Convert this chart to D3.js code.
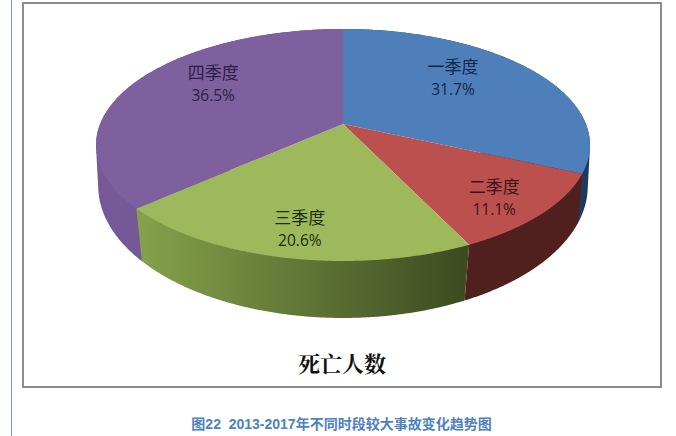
<!DOCTYPE html>
<html><head><meta charset="utf-8">
<script src="https://cdn.jsdelivr.net/npm/d3@7"></script>
<style>html,body{margin:0;padding:0;background:#fff}svg{display:block}</style>
</head><body><svg id="c" width="676" height="436"></svg>
<script>
const categories = ["一季度","二季度","三季度","四季度"];
const values = [31.7,11.1,20.6,36.5];
const valueLabels = ["31.7%","11.1%","20.6%","36.5%"];
const chartTitle = "死亡人数";
const caption = "图22  2013-2017年不同时段较大事故变化趋势图";

// style / layout
const topColors = ["#4f7fba","#bc504e","#9db95b","#7e609e"];
const wallStops = [["#1e3a60","#1e3a60"],["#4f201e","#4f201e"],["#86a24c","#3b4a20"],["#77599a","#6c5390"]];
const labelColors = ["#12264a","#3a1414","#1c2a10","#2a1f45"];
const labelAngle = [48.1,136.5,190.5,-56].map(d=>d*Math.PI/180);
const labelRadius = [.663,.813,.814,.684];
const wallOrder = [0,3,1,2];

const svg = d3.select("#c");
// perspective projection of a point on a disc of the pie
const disc = (cy,kx,ky,persp)=>{
  const sx=d3.scaleLinear().domain([-1,1]).range([343-kx,343+kx]);
  const sy=d3.scaleLinear().domain([-1,1]).range([cy-ky,cy+ky]);
  return (a,r=1)=>{
    const u=r*Math.sin(a), v=-r*Math.cos(a), w=1-persp*v;
    return [sx(u/w), sy(v/w)];
  };
};
const project = disc(124,242.9,112.2,.181);
const projectLow = disc(166.2,242,129,.15);

const arcs = d3.pie().sort(null).value(d=>d)(values);
const angles = d=>d3.range(0,241).map(i=>d.startAngle+(d.endAngle-d.startAngle)*i/240);
const line = d3.line();

const defs = svg.append("defs");
const ext = arcs.map(d=>d3.extent(angles(d),a=>project(a)[0]));
wallStops.forEach((s,i)=>{
  const g=defs.append("linearGradient").attr("id","w"+i).attr("gradientUnits","userSpaceOnUse")
    .attr("x1",ext[i][0]).attr("x2",ext[i][1]).attr("y1",0).attr("y2",0);
  g.append("stop").attr("offset",0).attr("stop-color",s[0]);
  g.append("stop").attr("offset",1).attr("stop-color",s[1]);
});

// page decoration
svg.append("line").attr("x1",11.5).attr("x2",11.5).attr("y1",0).attr("y2",436).attr("stroke","#7b97d6").attr("stroke-width",1);
svg.append("rect").attr("x",23).attr("y",3).attr("width",638).attr("height",384).attr("fill","#fff").attr("stroke","#8c8c8c").attr("stroke-width",2);

// walls first (convex hull of the top and bottom rims), top faces over them
svg.append("g").selectAll("path").data(wallOrder).join("path")
  .attr("d",i=>{const a=angles(arcs[i]);return line(d3.polygonHull(a.map(t=>project(t)).concat(a.map(t=>projectLow(t)))))+"Z";})
  .attr("fill",i=>`url(#w${i})`);
svg.append("g").selectAll("path").data(arcs).join("path")
  .attr("d",d=>line([project(0,0),...angles(d).map(t=>project(t))])+"Z")
  .attr("fill",(d,i)=>topColors[i]);

const labels = svg.append("g").attr("text-anchor","middle").style("font-family","'Noto Sans CJK SC','Noto Sans',sans-serif");
arcs.forEach((d,i)=>{
  const [x,y]=project(labelAngle[i],labelRadius[i]);
  labels.append("text").attr("x",x-1).attr("y",y-5).attr("font-size",17).attr("fill",labelColors[i]).text(categories[i]);
  labels.append("text").attr("x",x-1).attr("y",y+17).attr("font-size",15.5).style("font-family","'Open Sans',sans-serif").attr("fill",labelColors[i]).text(valueLabels[i]);
});

svg.append("text").attr("x",342).attr("y",372).attr("text-anchor","middle").attr("font-size",22).attr("font-weight",700)
  .style("font-family","'Noto Serif CJK SC','Noto Sans CJK SC',serif").attr("fill","#111").text(chartTitle);
svg.append("text").attr("x",341.5).attr("y",429).attr("text-anchor","middle").attr("font-size",14).attr("font-weight",700)
  .style("white-space","pre")
  .style("font-family","'Liberation Sans','Noto Sans CJK SC',sans-serif").attr("fill","#4f81bd").text(caption);
</script></body></html>
